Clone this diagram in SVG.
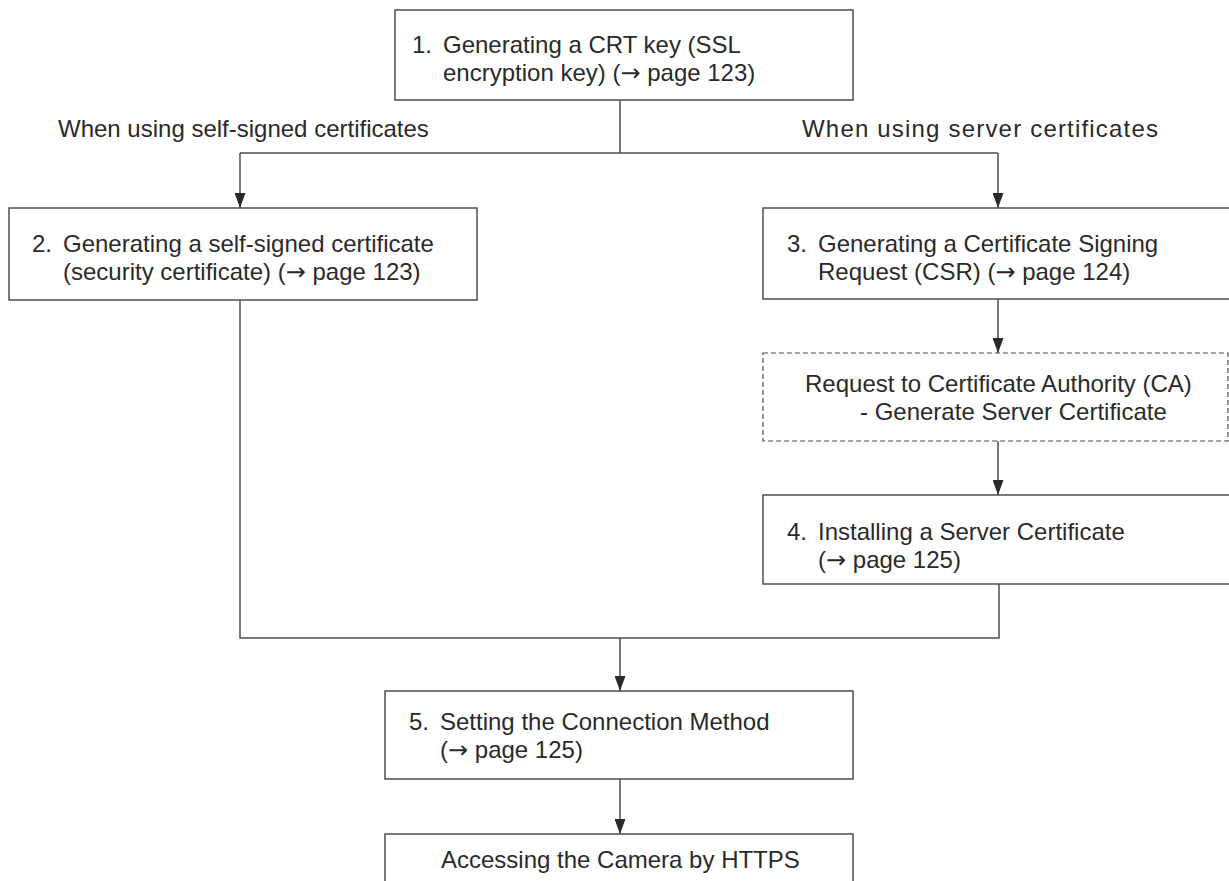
<svg xmlns="http://www.w3.org/2000/svg" width="1229" height="881" viewBox="0 0 1229 881">
<style>
  .box{fill:#fff;stroke:#4d4d4d;stroke-width:1.5}
  .dash{fill:#fff;stroke:#4d4d4d;stroke-width:1.2;stroke-dasharray:5 3}
  .t{font-family:"Liberation Sans",Arial,sans-serif;font-size:24px;fill:#2a2a2a}
  .ar{font-family:"DejaVu Sans",sans-serif;font-size:24px}
  .c{fill:none;stroke:#4d4d4d;stroke-width:1.5}
</style>
<defs>
  <marker id="ah" viewBox="0 0 15 11" refX="15" refY="5.5" markerWidth="15" markerHeight="11" markerUnits="userSpaceOnUse" orient="auto">
    <path d="M0,0 L15,5.5 L0,11 z" fill="#2a2a2a"/>
  </marker>
</defs>
<rect width="1229" height="881" fill="#fff"/>
<g id="connectors">
  <path class="c" d="M620,100 V153"/>
  <path class="c" d="M240,153 H998"/>
  <path class="c" d="M240,153 V208" marker-end="url(#ah)"/>
  <path class="c" d="M998,153 V208" marker-end="url(#ah)"/>
  <path class="c" d="M998,299 V353" marker-end="url(#ah)"/>
  <path class="c" d="M998,441 V495" marker-end="url(#ah)"/>
  <path class="c" d="M240,300 V638 H999 V584"/>
  <path class="c" d="M620,638 V691" marker-end="url(#ah)"/>
  <path class="c" d="M620,779 V834" marker-end="url(#ah)"/>
</g>
<g id="labels">
  <text class="t" x="58" y="137">When using self-signed certificates</text>
  <text class="t" x="802" y="137" textLength="356" lengthAdjust="spacing">When using server certificates</text>
</g>
<g id="node1">
  <rect class="box" x="395" y="10" width="458" height="90"/>
  <text class="t" x="412" y="53">1.</text>
  <text class="t" x="443" y="53">Generating a CRT key (SSL</text>
  <text class="t" x="443" y="81">encryption key) (<tspan class="ar">→</tspan> page 123)</text>
</g>
<g id="node2">
  <rect class="box" x="9" y="208" width="468" height="92"/>
  <text class="t" x="32" y="252">2.</text>
  <text class="t" x="63" y="252">Generating a self-signed certificate</text>
  <text class="t" x="63" y="280">(security certificate) (<tspan class="ar">→</tspan> page 123)</text>
</g>
<g id="node3">
  <rect class="box" x="763" y="208" width="470" height="91"/>
  <text class="t" x="787" y="252">3.</text>
  <text class="t" x="818" y="252">Generating a Certificate Signing</text>
  <text class="t" x="818" y="280">Request (CSR) (<tspan class="ar">→</tspan> page 124)</text>
</g>
<g id="nodeCA">
  <rect class="dash" x="763" y="353" width="465" height="88"/>
  <text class="t" x="805" y="392">Request to Certificate Authority (CA)</text>
  <text class="t" x="860" y="420">- Generate Server Certificate</text>
</g>
<g id="node4">
  <rect class="box" x="763" y="495" width="470" height="89"/>
  <text class="t" x="787" y="540">4.</text>
  <text class="t" x="818" y="540">Installing a Server Certificate</text>
  <text class="t" x="818" y="568">(<tspan class="ar">→</tspan> page 125)</text>
</g>
<g id="node5">
  <rect class="box" x="385" y="691" width="468" height="88"/>
  <text class="t" x="409" y="730">5.</text>
  <text class="t" x="440" y="730">Setting the Connection Method</text>
  <text class="t" x="440" y="758">(<tspan class="ar">→</tspan> page 125)</text>
</g>
<g id="node6">
  <rect class="box" x="385" y="834" width="468" height="60"/>
  <text class="t" x="441" y="868">Accessing the Camera by HTTPS</text>
</g>
</svg>
